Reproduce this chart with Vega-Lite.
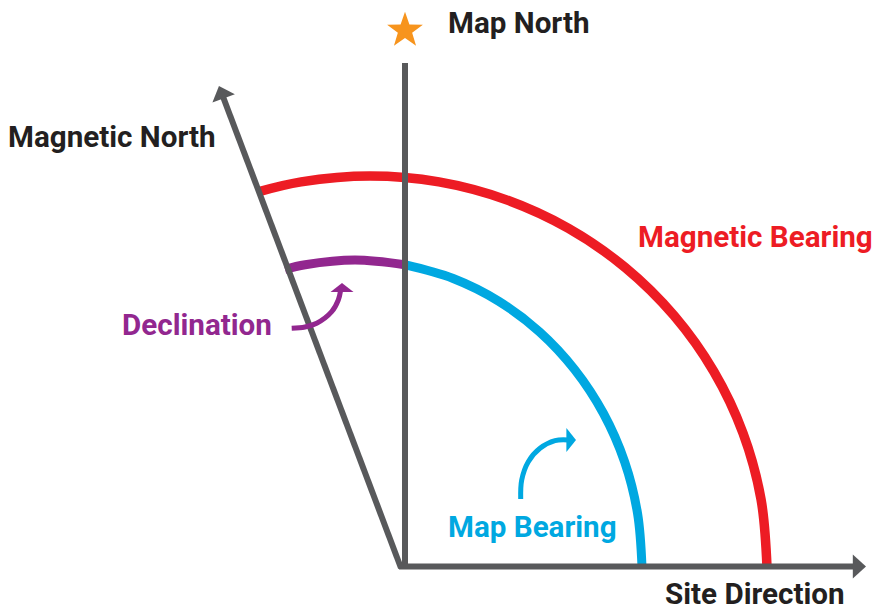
{
  "$schema": "https://vega.github.io/schema/vega-lite/v6.json",
  "width": 873,
  "height": 612,
  "padding": 0,
  "autosize": {"type": "none"},
  "background": "white",
  "config": {"view": {"stroke": null}},
  "datasets": {
    "paths": [
      {"s": "north", "i": 0, "x": 405, "y": 63},
      {"s": "north", "i": 1, "x": 405, "y": 569},
      {"s": "site", "i": 0, "x": 399, "y": 566.5},
      {"s": "site", "i": 1, "x": 859, "y": 566.5},
      {"s": "mag", "i": 0, "x": 401, "y": 568},
      {"s": "mag", "i": 1, "x": 221.3, "y": 92.2},
      {"s": "red", "i": 0, "x": 257.3, "y": 192.1},
      {"s": "red", "i": 1, "x": 301.1, "y": 181.9},
      {"s": "red", "i": 2, "x": 370, "y": 176},
      {"s": "red", "i": 3, "x": 438.9, "y": 181.9},
      {"s": "red", "i": 4, "x": 505.8, "y": 199.6},
      {"s": "red", "i": 5, "x": 568.5, "y": 228.4},
      {"s": "red", "i": 6, "x": 625.2, "y": 267.5},
      {"s": "red", "i": 7, "x": 674.1, "y": 315.7},
      {"s": "red", "i": 8, "x": 713.8, "y": 371.5},
      {"s": "red", "i": 9, "x": 743.1, "y": 433.3},
      {"s": "red", "i": 10, "x": 761.0, "y": 499.1},
      {"s": "red", "i": 11, "x": 767, "y": 567},
      {"s": "purple", "i": 0, "x": 285.0, "y": 269.3},
      {"s": "purple", "i": 1, "x": 305.2, "y": 264.7},
      {"s": "purple", "i": 2, "x": 355, "y": 260},
      {"s": "purple", "i": 3, "x": 404.8, "y": 264.7},
      {"s": "blue", "i": 0, "x": 404.8, "y": 264.7},
      {"s": "blue", "i": 1, "x": 453.2, "y": 278.5},
      {"s": "blue", "i": 2, "x": 498.5, "y": 301.1},
      {"s": "blue", "i": 3, "x": 539.5, "y": 331.8},
      {"s": "blue", "i": 4, "x": 574.8, "y": 369.7},
      {"s": "blue", "i": 5, "x": 603.5, "y": 413.5},
      {"s": "blue", "i": 6, "x": 624.7, "y": 462.0},
      {"s": "blue", "i": 7, "x": 637.6, "y": 513.7},
      {"s": "blue", "i": 8, "x": 642, "y": 567},
      {"s": "parrow", "i": 0, "x": 291.7, "y": 328.3},
      {"s": "parrow", "i": 1, "x": 305, "y": 327},
      {"s": "parrow", "i": 2, "x": 316.7, "y": 323.3},
      {"s": "parrow", "i": 3, "x": 331.7, "y": 311.7},
      {"s": "parrow", "i": 4, "x": 338.3, "y": 300},
      {"s": "parrow", "i": 5, "x": 340.5, "y": 291},
      {"s": "barrow", "i": 0, "x": 520.7, "y": 499},
      {"s": "barrow", "i": 1, "x": 521.7, "y": 480},
      {"s": "barrow", "i": 2, "x": 528.3, "y": 461.7},
      {"s": "barrow", "i": 3, "x": 540, "y": 448.3},
      {"s": "barrow", "i": 4, "x": 555, "y": 440.7},
      {"s": "barrow", "i": 5, "x": 568, "y": 440}
    ],
    "heads": [
      {"h": "site", "x": 859.4, "y": 566.5},
      {"h": "mag", "x": 221.3, "y": 92.2},
      {"h": "parrow", "x": 342, "y": 287.5},
      {"h": "barrow", "x": 571.2, "y": 440},
      {"h": "star", "x": 405, "y": 30.5}
    ],
    "labels": [
      {"t": "Map North", "x": 448, "y": 33},
      {"t": "Magnetic North", "x": 8, "y": 147},
      {"t": "Magnetic Bearing", "x": 638, "y": 247},
      {"t": "Declination", "x": 122, "y": 335},
      {"t": "Map Bearing", "x": 448, "y": 537},
      {"t": "Site Direction", "x": 665, "y": 604}
    ]
  },
  "encoding": {
    "x": {"field": "x", "type": "quantitative", "scale": {"domain": [0, 873], "nice": false, "zero": false}, "axis": null},
    "y": {"field": "y", "type": "quantitative", "scale": {"domain": [0, 612], "nice": false, "zero": false, "reverse": true}, "axis": null}
  },
  "layer": [
    {
      "data": {"name": "paths"},
      "transform": [{"filter": "datum.s == 'red'"}],
      "mark": {"type": "line", "color": "#ed1c24", "strokeWidth": 9.5, "strokeCap": "butt", "interpolate": "catmull-rom"},
      "encoding": {"order": {"field": "i", "type": "quantitative"}}
    },
    {
      "data": {"name": "paths"},
      "transform": [{"filter": "datum.s == 'blue'"}],
      "mark": {"type": "line", "color": "#00a8e1", "strokeWidth": 9, "strokeCap": "butt", "interpolate": "catmull-rom"},
      "encoding": {"order": {"field": "i", "type": "quantitative"}}
    },
    {
      "data": {"name": "paths"},
      "transform": [{"filter": "datum.s == 'purple'"}],
      "mark": {"type": "line", "color": "#92278f", "strokeWidth": 9, "strokeCap": "butt", "interpolate": "catmull-rom"},
      "encoding": {"order": {"field": "i", "type": "quantitative"}}
    },
    {
      "data": {"name": "paths"},
      "transform": [{"filter": "datum.s == 'north' || datum.s == 'site' || datum.s == 'mag'"}],
      "mark": {"type": "line", "color": "#58595b", "strokeWidth": 6, "strokeCap": "butt"},
      "encoding": {"detail": {"field": "s"}, "order": {"field": "i", "type": "quantitative"}}
    },
    {
      "data": {"name": "paths"},
      "transform": [{"filter": "datum.s == 'parrow'"}],
      "mark": {"type": "line", "color": "#92278f", "strokeWidth": 5, "strokeCap": "butt", "interpolate": "catmull-rom"},
      "encoding": {"order": {"field": "i", "type": "quantitative"}}
    },
    {
      "data": {"name": "paths"},
      "transform": [{"filter": "datum.s == 'barrow'"}],
      "mark": {"type": "line", "color": "#00a8e1", "strokeWidth": 5, "strokeCap": "butt", "interpolate": "catmull-rom"},
      "encoding": {"order": {"field": "i", "type": "quantitative"}}
    },
    {
      "data": {"name": "heads"},
      "transform": [{"filter": "datum.h == 'site'"}],
      "mark": {"type": "point", "shape": "M0,-0.55L1,0.55L-1,0.55Z", "filled": true, "opacity": 1, "size": 576, "angle": 90, "color": "#58595b", "strokeWidth": 0}
    },
    {
      "data": {"name": "heads"},
      "transform": [{"filter": "datum.h == 'mag'"}],
      "mark": {"type": "point", "shape": "M0,-0.55L1,0.55L-1,0.55Z", "filled": true, "opacity": 1, "size": 576, "angle": 339.3, "color": "#58595b", "strokeWidth": 0}
    },
    {
      "data": {"name": "heads"},
      "transform": [{"filter": "datum.h == 'parrow'"}],
      "mark": {"type": "point", "shape": "M0,-0.4L1,0.4L-1,0.4Z", "filled": true, "opacity": 1, "size": 529, "angle": 0, "color": "#92278f", "strokeWidth": 0}
    },
    {
      "data": {"name": "heads"},
      "transform": [{"filter": "datum.h == 'barrow'"}],
      "mark": {"type": "point", "shape": "M0,-0.4L1,0.4L-1,0.4Z", "filled": true, "opacity": 1, "size": 576, "angle": 90, "color": "#00a8e1", "strokeWidth": 0}
    },
    {
      "data": {"name": "heads"},
      "transform": [{"filter": "datum.h == 'star'"}],
      "mark": {"type": "point", "shape": "M0,-1L0.235,-0.324L0.951,-0.309L0.380,0.124L0.588,0.809L0,0.4L-0.588,0.809L-0.380,0.124L-0.951,-0.309L-0.235,-0.324Z", "filled": true, "opacity": 1, "size": 1414, "color": "#f7941d", "strokeWidth": 0}
    },
    {
      "data": {"name": "labels"},
      "mark": {"type": "text", "align": "left", "baseline": "alphabetic", "font": "Roboto", "fontWeight": "bold", "fontSize": 29.6},
      "encoding": {
        "text": {"field": "t"},
        "color": {"field": "t", "type": "nominal", "legend": null, "scale": {"domain": ["Map North", "Magnetic North", "Site Direction", "Magnetic Bearing", "Declination", "Map Bearing"], "range": ["#231f20", "#231f20", "#231f20", "#ed1c24", "#92278f", "#00a8e1"]}}
      }
    }
  ]
}
